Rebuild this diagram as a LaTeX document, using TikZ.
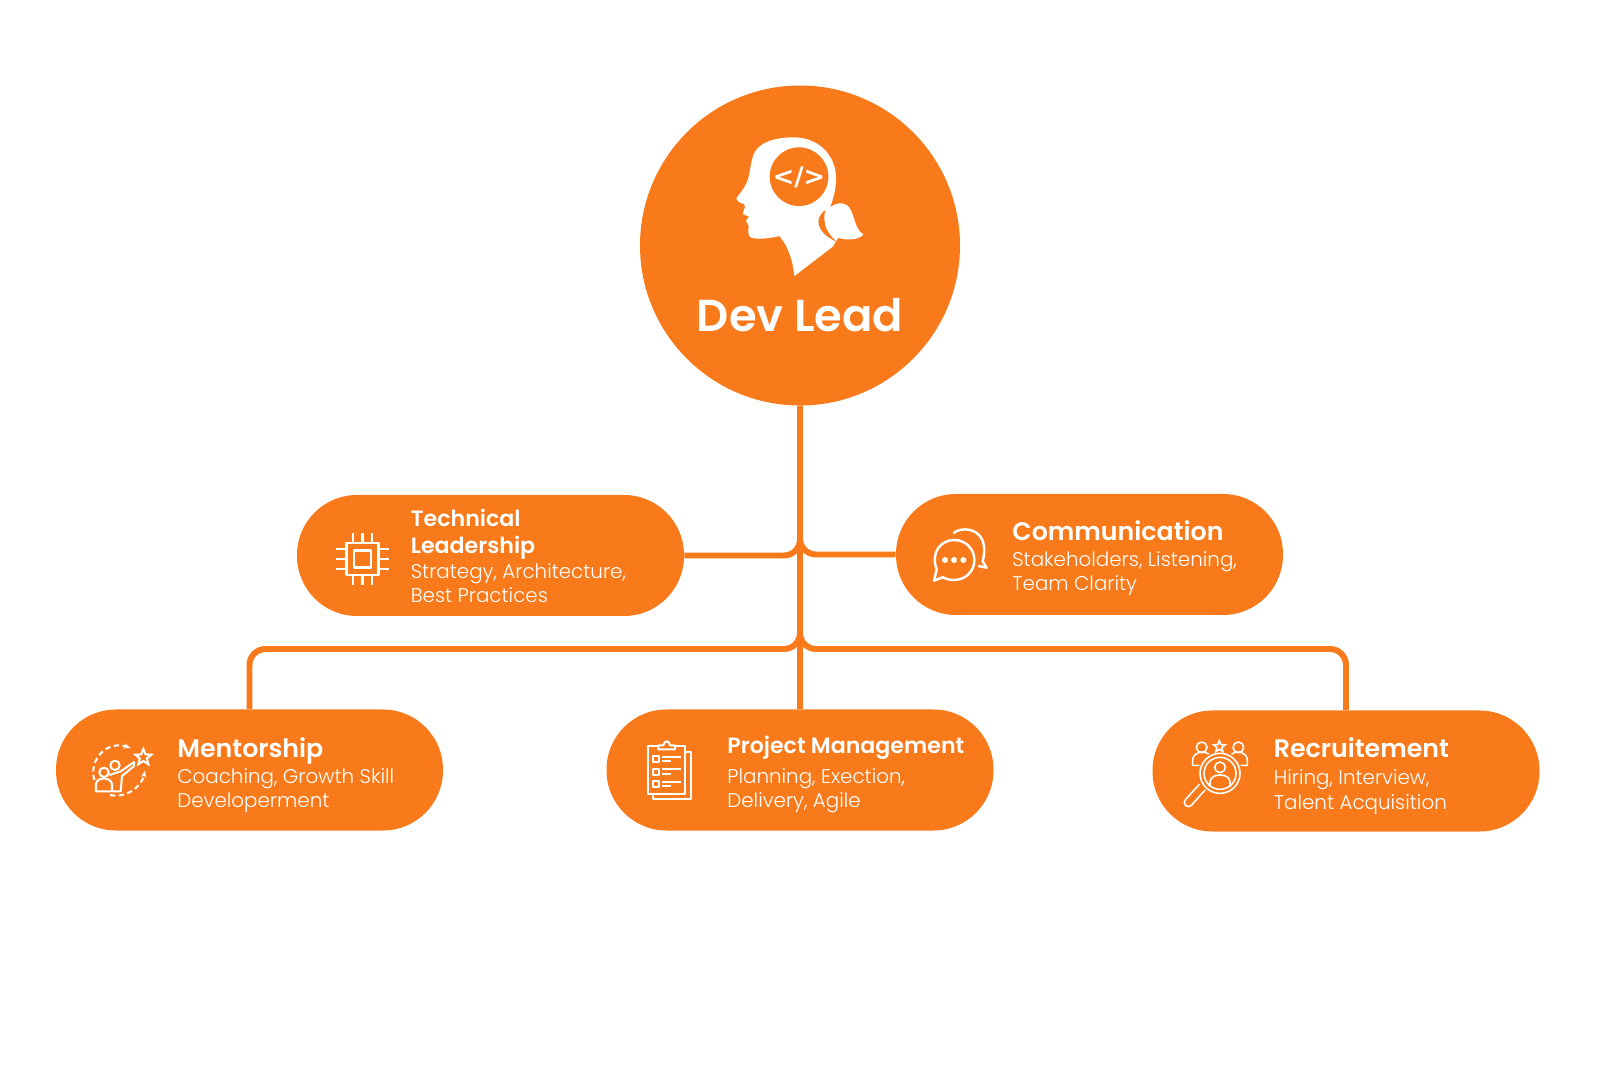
\documentclass[tikz,border=0pt]{standalone}
\usepackage{fontspec}
\usepackage{xcolor}
\usepackage{tikz}
\usetikzlibrary{arrows.meta,shapes.geometric}
\setmainfont{Poppins}
\newfontfamily\ttlfont{Poppins SemiBold}
\newfontfamily\subfont{Poppins Light}
\newfontfamily\codefont{DejaVu Sans Bold}
\definecolor{brand}{HTML}{F97A1B}
\tikzset{
  link/.style={draw=brand, line width=3.4pt, rounded corners=0.32cm},
  rootnode/.style={circle, fill=brand, minimum size=6.4cm, inner sep=0pt},
  pill/.style={rectangle, fill=brand, rounded corners=1.2cm, minimum width=7.74cm, minimum height=2.42cm, inner sep=0pt},
  pilltitle/.style={text=white, anchor=base west, inner sep=0pt, font=\ttlfont\fontsize{14.4}{17}\selectfont},
  pilltitlesm/.style={text=white, anchor=base west, inner sep=0pt, font=\ttlfont\fontsize{12.6}{15}\selectfont},
  pilltext/.style={text=white, anchor=base west, inner sep=0pt, font=\subfont\fontsize{11.3}{14}\selectfont},
  icon/.style={draw=white, line width=1.15pt, line join=round},
  thinicon/.style={draw=white, line width=0.9pt, line join=round},
  icongrid/.style={x=0.006667cm, y=-0.006667cm}
}

\begin{document}
\begin{tikzpicture}
  \useasboundingbox (0,0) rectangle (32,21.32);

  \node[rootnode] (root) at (16,16.41) {};
  \node[pill] (tech) at (9.81,10.21) {};
  \node[pill] (comm) at (21.79,10.23) {};
  \node[pill] (ment) at (4.99,5.92) {};
  \node[pill] (proj) at (16,5.92) {};
  \node[pill] (recr) at (26.92,5.90) {};

  \coordinate (jointT) at (root.south |- tech.east);
  \coordinate (jointC) at (root.south |- comm.west);
  \coordinate (bus) at (16,8.34);

  % connectors
  \draw[link] (tech.east) -- (jointT) -- (root.south);
  \draw[link] (comm.west) -- (jointC) -- (root.south);
  \draw[link] (ment.north) |- (bus) -- (root.south);
  \draw[link] (recr.north) |- (bus) -- (root.south);
  \draw[link] (proj.north) -- (root.south);

  % root label
  \node[text=white, anchor=base, inner sep=0pt, font=\ttlfont\fontsize{25.5}{30}\selectfont] (rootlbl) at (16,14.68) {Dev Lead};

  % pill texts
  \node[pilltitlesm] (techA) at (8.21,10.79) {Technical};
  \node[pilltitlesm] (techB) at (8.21,10.24) {Leadership};
  \node[pilltext] (techC) at (8.21,9.74) {Strategy, Architecture,};
  \node[pilltext] (techD) at (8.21,9.26) {Best Practices};

  \node[pilltitle] (commA) at (20.24,10.50) {Communication};
  \node[pilltext] (commB) at (20.24,9.98) {Stakeholders, Listening,};
  \node[pilltext] (commC) at (20.24,9.50) {Team Clarity};

  \node[pilltitle] (mentA) at (3.54,6.18) {Mentorship};
  \node[pilltext] (mentB) at (3.54,5.64) {Coaching, Growth Skill};
  \node[pilltext] (mentC) at (3.54,5.16) {Developerment};

  \node[pilltitlesm] (projA) at (14.54,6.24) {Project Management};
  \node[pilltext] (projB) at (14.54,5.64) {Planning, Exection,};
  \node[pilltext] (projC) at (14.54,5.16) {Delivery, Agile};

  \node[pilltitle] (recrA) at (25.47,6.18) {Recruitement};
  \node[pilltext] (recrB) at (25.47,5.62) {Hiring, Interview,};
  \node[pilltext] (recrC) at (25.47,5.12) {Talent Acquisition};

  % head
  \begin{scope}[shift={(12.4,19.92)},icongrid]
    \fill[white] (398,262) .. controls (405,230) and (440,205) .. (510,202)
      .. controls (590,198) and (645,250) .. (648,320)
      .. controls (648,360) and (640,385) .. (630,412)
      .. controls (645,400) and (665,395) .. (680,405)
      .. controls (705,422) and (698,472) .. (730,494)
      .. controls (715,510) and (680,512) .. (655,503)
      -- (638,530) -- (523,618)
      .. controls (518,570) and (505,530) .. (478,498)
      .. controls (450,505) and (410,510) .. (392,502)
      .. controls (382,495) and (385,480) .. (386,468)
      -- (378,452) -- (387,440) -- (368,432) -- (375,410) -- (372,402)
      .. controls (360,400) and (350,392) .. (349,385)
      .. controls (360,370) and (372,355) .. (378,342)
      .. controls (390,320) and (390,285) .. (398,262) -- cycle;
    \fill[brand] (537,320) circle (88);
    \fill[brand] (616,420) .. controls (580,445) and (590,490) .. (652,516)
      .. controls (625,495) and (605,465) .. (616,420) -- cycle;
    \node[text=white, inner sep=0pt, font=\codefont\fontsize{14.6}{17}\selectfont] (code) at (537,322) {</>};
  \end{scope}

  % chip
  \begin{scope}[shift={(7.25,10.14)},x=0.02cm,y=-0.02cm]
    \draw[icon] (-16,-16) rectangle (16,16);
    \draw[icon] (-8.5,-8.5) rectangle (8.5,8.5);
    \foreach \p in {-9.6,0,9.6} {
      \draw[icon] (\p,-16) -- (\p,-26);
      \draw[icon] (\p,16) -- (\p,26);
      \draw[icon] (-16,\p) -- (-26,\p);
      \draw[icon] (16,\p) -- (26,\p);
    }
  \end{scope}

  % chat bubbles
  \begin{scope}[shift={(15.8,11.72)},icongrid]
    \draw[icon, line width=1.4pt] (432,302) -- (440,268) .. controls (420,215) and (455,180) .. (492,180)
      .. controls (530,180) and (553,210) .. (553,240)
      .. controls (553,275) and (525,300) .. (492,300)
      .. controls (475,300) and (465,295) .. (458,292) -- cycle;
    \draw[icon, line width=1.4pt] (490,160) .. controls (510,140) and (575,140) .. (582,200)
      .. controls (585,225) and (578,240) .. (578,245) -- (590,263) -- (565,258);
    \foreach \p in {465,492,520} {
      \fill[white] (\p,240) circle (9);
    }
  \end{scope}

  % mentor
  \begin{scope}[shift={(1,8.52)},icongrid]
    \draw[icon, dash pattern=on 3pt off 2pt, -{Stealth[length=4pt]}] (133,420) .. controls (115,360) and (170,300) .. (242,324);
    \draw[icon, dash pattern=on 3pt off 2pt, -{Stealth[length=4pt]}] (180,465) .. controls (230,475) and (275,440) .. (285,392);
    \node[star, star points=5, star point ratio=2.3, draw=white, line width=1.15pt, minimum size=0.34cm, inner sep=0pt] (mentStar) at (280,352) {};
    \draw[icon] (162,397) circle (14);
    \draw[icon] (195,376) circle (14);
    \draw[icon] (138,454) -- (138,432) .. controls (140,410) and (183,410) .. (186,432) -- (186,454) -- cycle;
    \draw[icon] (178,405) -- (212,394) -- (252,366) -- (252,378) -- (216,408) -- (212,454) -- (186,454);
  \end{scope}

  % clipboard
  \begin{scope}[shift={(12,8.52)},icongrid]
    \draw[icon] (175,318) -- (145,318) -- (145,462) -- (255,462) -- (255,318) -- (225,318);
    \draw[icon] (255,336) -- (272,336) -- (272,477) -- (160,477) -- (160,462);
    \draw[icon] (175,328) -- (175,316) -- (190,316) .. controls (192,300) and (208,300) .. (210,316) -- (225,316) -- (225,328) -- cycle;
    \foreach \r in {358,395,432} {
      \draw[icon] (158,\r-9) rectangle (177,\r+9);
      \draw[icon] (186,\r-7) -- (243,\r-7);
      \draw[icon] (186,\r+6) -- (213,\r+6);
    }
  \end{scope}

  % magnifier
  \begin{scope}[shift={(22.8,8.52)},icongrid]
    \draw[thinicon] (240,400) circle (60);
    \draw[thinicon] (240,400) circle (48);
    \draw[thinicon] (240,382) circle (16);
    \draw[thinicon] (210,440) -- (210,425) .. controls (212,398) and (268,398) .. (270,425) -- (270,440);
    \draw[thinicon] (195,450) -- (155,495) .. controls (145,507) and (125,495) .. (137,478) -- (178,433);
    \draw[thinicon] (185,322) circle (16);
    \draw[thinicon] (295,322) circle (16);
    \draw[thinicon] (206,342) .. controls (190,330) and (160,335) .. (158,360) -- (158,376) -- (178,376);
    \draw[thinicon] (274,342) .. controls (290,330) and (320,335) .. (322,360) -- (322,376) -- (302,376);
    \node[star, star points=5, star point ratio=2.3, draw=white, line width=0.9pt, minimum size=0.24cm, inner sep=0pt] (recrStar) at (238,320) {};
  \end{scope}
\end{tikzpicture}
\end{document}
